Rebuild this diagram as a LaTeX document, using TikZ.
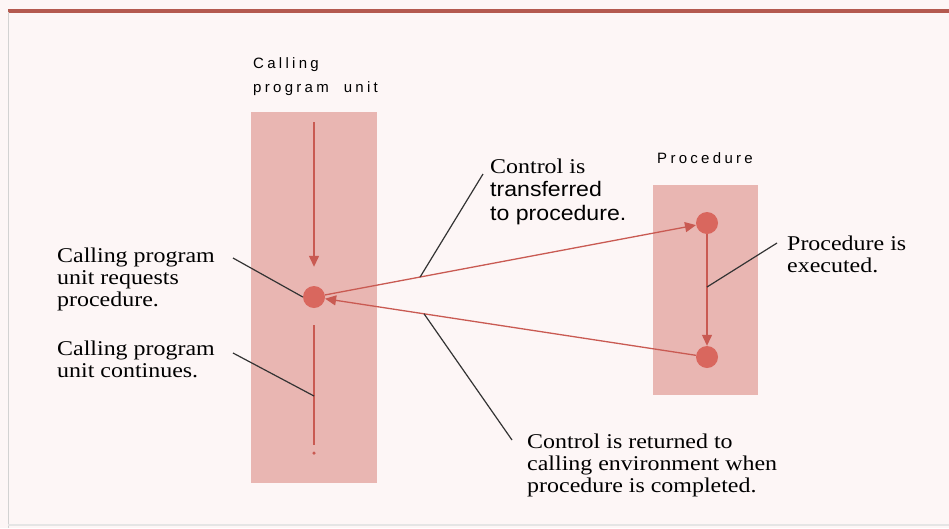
\documentclass[tikz,border=0pt]{standalone}
\usepackage{fontspec}
\setmainfont{Liberation Serif}[FakeStretch=1.14]
\newfontfamily\tagfont{Liberation Sans}[LetterSpace=22]
\newfontfamily\plainsans{Liberation Sans}[FakeStretch=1.1]
\usetikzlibrary{arrows.meta,positioning,calc}

\definecolor{pagebg}{HTML}{FDF6F6}
\definecolor{unitpink}{HTML}{E9B6B2}
\definecolor{dotred}{HTML}{D9675E}
\definecolor{flowred}{HTML}{C95A52}
\definecolor{rulered}{HTML}{B45A50}

\begin{document}
\begin{tikzpicture}[x=1pt, y=-1pt, >={Triangle[length=11pt,width=10pt]},
    unit/.style={fill=unitpink, draw=none, inner sep=0pt},
    dot/.style={circle, fill=dotred, minimum size=22pt, inner sep=0pt},
    flow/.style={->, flowred, line width=1.3pt},
    leader/.style={black!80, line width=1.2pt},
    note/.style={anchor=base west, align=left, inner sep=0pt, font=\fontsize{21}{22}\selectfont},
    tag/.style={anchor=base west, align=left, inner sep=0pt, font=\tagfont\fontsize{15}{24}\selectfont}]
    % Page and frame
    \fill[pagebg] (0,0) rectangle (949,528);
    \useasboundingbox (0,0) rectangle (949,528);
    \draw[rulered, line width=4pt] (8,10.5) -- (949,10.5);
    \draw[gray!35, line width=1pt] (8,12) -- (8,528);
    \draw[gray!20, line width=1.5pt] (8,525) -- (949,525);

    % Calling program unit and procedure
    \node[unit, minimum width=126pt, minimum height=371pt] (callbox) at (314,297.5) {};
    \node[unit, minimum width=105pt, minimum height=210pt] (procbox) at (705.5,290) {};
    % (base of a two-line node = baseline of its last line)
    \node[tag] (callhead) at (253,92) {Calling\\program\ \ unit};
    \node[tag] (prochead) at (657,163) {Procedure};

    \node[dot] (req) at (314,297) {};
    \node[dot] (start) at (707,223) {};
    \node[dot] (finish) at (707,357) {};
    \node[circle, fill=flowred, inner sep=0pt, minimum size=3.5pt] (tail) at (314,453) {};

    % Flow of control
    \coordinate (calltop) at (314,122);
    \coordinate (callend) at (314,445);
    \draw[flow, shorten >=19pt] (calltop) -- (req.north);
    \draw[flowred, line width=1.3pt] ([yshift=-17pt]req.south) -- (callend);
    \draw[flow] (req) -- (start);
    \draw[flow] (start) -- (finish);
    \draw[flow] (finish) -- (req);

    % Notes
    \node[note] (reqnote) at (57,306) {Calling program\\unit\ requests\\procedure.};
    \node[note] (contnote) at (57,377) {Calling program\\unit\ continues.};
    \node[note, font=\fontsize{21}{23.5}\selectfont] (xfernote) at (490,220)
        {Control is\\{\plainsans transferred}\\{\plainsans to procedure.}};
    \node[note] (execnote) at (787,272) {Procedure is\\executed.};
    \node[note] (retnote) at (527,492)
        {Control is returned to\\calling environment when\\procedure is completed.};

    % Leader lines
    \coordinate (reqlead) at (233,258);
    \coordinate (contlead) at (233,353);
    \coordinate (contpt) at (314,396);
    \coordinate (xferlead) at (483,174);
    \coordinate (execlead) at (777,243);
    \coordinate (execpt) at (707,287);
    \coordinate (retlead) at (512,440);
    \draw[leader] (reqlead) -- (req.west);
    \draw[leader] (contlead) -- (contpt);
    \draw[leader] (xferlead) -- ($(req)!0.27!(start)$);
    \draw[leader] (execlead) -- (execpt);
    \draw[leader] (retlead) -- ($(finish)!0.72!(req)$);
\end{tikzpicture}
\end{document}
